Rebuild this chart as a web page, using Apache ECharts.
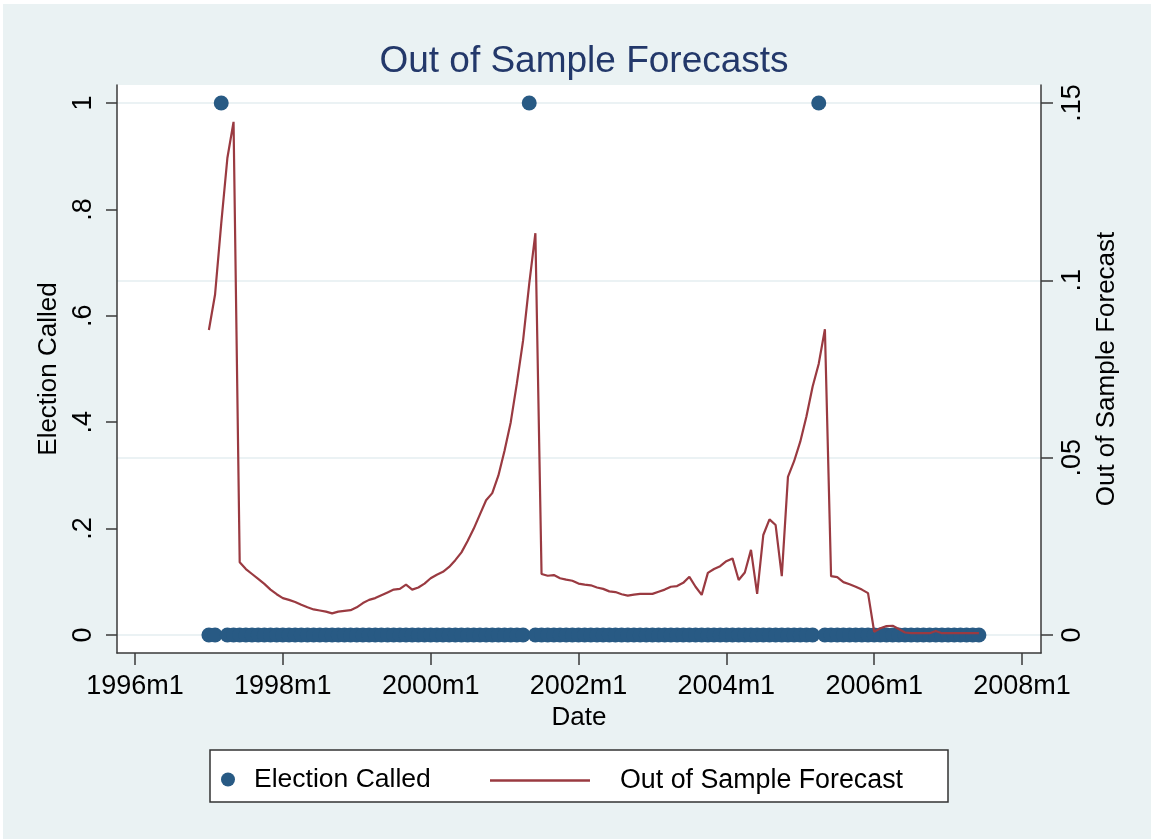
<!DOCTYPE html>
<html>
<head>
<meta charset="utf-8">
<script src="https://cdn.jsdelivr.net/npm/echarts@6/dist/echarts.min.js"></script>
<style>
html,body{margin:0;padding:0;background:#ffffff;}
#chart{width:1151px;height:839px;}
</style>
</head>
<body>
<div id="chart"></div>
<script>
// ---- data ----
var startYear = 1997;          // first month of the sample: 1997m1
var nMonths = 126;             // 1997m1 .. 2007m6

// Out of sample forecast, one row per year (Jan..Dec)
var forecast1997 = [0.086, 0.096, 0.116, 0.1345, 0.1447, 0.0205, 0.0186, 0.0172, 0.0158, 0.0144, 0.0128, 0.0115];
var forecast1998 = [0.0104, 0.0099, 0.0093, 0.0085, 0.0078, 0.0072, 0.0069, 0.0066, 0.0061, 0.0066, 0.0068, 0.0070];
var forecast1999 = [0.0078, 0.0090, 0.0099, 0.0104, 0.0112, 0.0120, 0.0128, 0.0130, 0.0142, 0.0128, 0.0134, 0.0145];
var forecast2000 = [0.0160, 0.0170, 0.0178, 0.0192, 0.0211, 0.0233, 0.0265, 0.0300, 0.0340, 0.0380, 0.0400, 0.0450];
var forecast2001 = [0.0520, 0.0600, 0.0710, 0.0830, 0.0990, 0.1133, 0.0172, 0.0167, 0.0169, 0.0160, 0.0156, 0.0153];
var forecast2002 = [0.0145, 0.0142, 0.0140, 0.0134, 0.0130, 0.0123, 0.0121, 0.0115, 0.0111, 0.0114, 0.0116, 0.0116];
var forecast2003 = [0.0116, 0.0122, 0.0128, 0.0136, 0.0138, 0.0147, 0.0164, 0.0136, 0.0113, 0.0175, 0.0186, 0.0194];
var forecast2004 = [0.0208, 0.0216, 0.0155, 0.0176, 0.0240, 0.0116, 0.0282, 0.0326, 0.0310, 0.0166, 0.0446, 0.0490];
var forecast2005 = [0.0545, 0.0616, 0.0700, 0.0765, 0.0862, 0.0166, 0.0163, 0.0149, 0.0143, 0.0136, 0.0128, 0.0118];
var forecast2006 = [0.0009, 0.0019, 0.0025, 0.0026, 0.0017, 0.0007, 0.0005, 0.0005, 0.0005, 0.0005, 0.0011, 0.0005];
var forecast2007 = [0.0005, 0.0005, 0.0005, 0.0005, 0.0005, 0.0005];

// Election called indicator, one row per year
var election1997 = [0,0,1,0,0,0,0,0,0,0,0,0];
var election1998 = [0,0,0,0,0,0,0,0,0,0,0,0];
var election1999 = [0,0,0,0,0,0,0,0,0,0,0,0];
var election2000 = [0,0,0,0,0,0,0,0,0,0,0,0];
var election2001 = [0,0,0,0,1,0,0,0,0,0,0,0];
var election2002 = [0,0,0,0,0,0,0,0,0,0,0,0];
var election2003 = [0,0,0,0,0,0,0,0,0,0,0,0];
var election2004 = [0,0,0,0,0,0,0,0,0,0,0,0];
var election2005 = [0,0,0,1,0,0,0,0,0,0,0,0];
var election2006 = [0,0,0,0,0,0,0,0,0,0,0,0];
var election2007 = [0,0,0,0,0,0];

// axis ticks (x in months since 1996m1)
var xTickValues = [0, 24, 48, 72, 96, 120, 144];
var xTickLabels = ["1996m1", "1998m1", "2000m1", "2002m1", "2004m1", "2006m1", "2008m1"];
var leftTickValues = [0, 0.2, 0.4, 0.6, 0.8, 1];
var leftTickLabels = ["0", ".2", ".4", ".6", ".8", "1"];
var rightTickValues = [0, 0.05, 0.1, 0.15];
var rightTickLabels = ["0", ".05", ".1", ".15"];

// ---- build ----
var forecast = [].concat(forecast1997, forecast1998, forecast1999, forecast2000, forecast2001,
  forecast2002, forecast2003, forecast2004, forecast2005, forecast2006, forecast2007);
var election = [].concat(election1997, election1998, election1999, election2000, election2001,
  election2002, election2003, election2004, election2005, election2006, election2007);

var dates = [];
for (var i = 0; i < nMonths; i++) {
  dates.push((startYear + Math.floor(i / 12)) + "m" + (i % 12 + 1));
}
function monthIndex(d) { // months since 1996m1
  var p = d.split("m");
  return (parseInt(p[0], 10) - 1996) * 12 + parseInt(p[1], 10) - 1;
}
var forecastData = dates.map(function (d, i) { return [monthIndex(d), forecast[i]]; });
var electionData = dates.map(function (d, i) { return [monthIndex(d), election[i]]; });

function lookup(values, labels) {
  return function (v) {
    for (var k = 0; k < values.length; k++) {
      if (Math.abs(values[k] - v) < 1e-9) return labels[k];
    }
    return "";
  };
}

var FONT = '"Liberation Sans", Arial, Helvetica, sans-serif';
var AXIS_COLOR = '#3a3a3a';
var NAVY = '#285a84';
var MAROON = '#9a3a41';

var chart = echarts.init(document.getElementById('chart'), null, { renderer: 'canvas' });
chart.setOption({
  backgroundColor: '#eaf2f3',
  animation: false,
  title: {
    text: 'Out of Sample Forecasts',
    left: 579, textAlign: 'center', top: 38,
    textStyle: { fontFamily: FONT, fontSize: 37, fontWeight: 'normal', color: '#23386a' }
  },
  graphic: [
    { type: 'rect', shape: { x: 0, y: 0, width: 1151, height: 4 }, style: { fill: '#ffffff' }, silent: true },
    { type: 'rect', shape: { x: 0, y: 0, width: 3, height: 839 }, style: { fill: '#ffffff' }, silent: true },
    { type: 'rect', shape: { x: 117, y: 85, width: 924, height: 568 }, style: { fill: '#ffffff' }, silent: true, z: -10 },
    { type: 'rect', shape: { x: 210, y: 750, width: 738, height: 52 }, style: { fill: '#ffffff', stroke: '#333333', lineWidth: 1.5 }, silent: true, z: 0 }
  ],
  legend: [
    {
      data: [{ name: 'Election Called', icon: 'circle' }], left: 216, top: 761,
      itemWidth: 14, itemHeight: 14,
      textStyle: { fontFamily: FONT, fontSize: 26.5, color: '#000', padding: [0, 0, 0, 14] }
    },
    {
      data: [{ name: 'Out of Sample Forecast', icon: 'rect' }], left: 485, top: 762,
      itemWidth: 100, itemHeight: 2.5,
      itemStyle: { color: MAROON },
      textStyle: { fontFamily: FONT, fontSize: 26.8, color: '#000', padding: [0, 0, 0, 25] }
    }
  ],
  grid: { left: 117, right: 110, top: 85, bottom: 186, containLabel: false },
  xAxis: {
    type: 'value', min: -2.92, max: 147.08,
    name: 'Date', nameLocation: 'middle', nameGap: 48,
    nameTextStyle: { fontFamily: FONT, fontSize: 26, color: '#000' },
    axisLine: { show: true, onZero: false, lineStyle: { color: AXIS_COLOR, width: 1.5 } },
    axisTick: { show: true, customValues: xTickValues, length: 12, lineStyle: { color: AXIS_COLOR, width: 1.5 } },
    axisLabel: { customValues: xTickValues, formatter: lookup(xTickValues, xTickLabels), margin: 20,
      fontFamily: FONT, fontSize: 27, color: '#000' },
    splitLine: { show: false }
  },
  yAxis: [
    {
      type: 'value', position: 'left', min: -0.0338, max: 1.0338,
      name: 'Election Called', nameLocation: 'middle', nameRotate: 90, nameGap: 50,
      nameTextStyle: { fontFamily: FONT, fontSize: 26, color: '#000' },
      axisLine: { show: true, onZero: false, lineStyle: { color: AXIS_COLOR, width: 1.5 } },
      axisTick: { show: true, customValues: leftTickValues, length: 11, lineStyle: { color: AXIS_COLOR, width: 1.5 } },
      axisLabel: { customValues: leftTickValues, formatter: lookup(leftTickValues, leftTickLabels), rotate: 90, margin: 20,
        fontFamily: FONT, fontSize: 27, color: '#000' },
      splitLine: { show: false }
    },
    {
      type: 'value', position: 'right', min: -0.00508, max: 0.15508,
      name: 'Out of Sample Forecast', nameLocation: 'middle', nameRotate: 90, nameGap: 50,
      nameTextStyle: { fontFamily: FONT, fontSize: 26, color: '#000' },
      axisLine: { show: true, onZero: false, lineStyle: { color: AXIS_COLOR, width: 1.5 } },
      axisTick: { show: true, customValues: rightTickValues, length: 12, lineStyle: { color: AXIS_COLOR, width: 1.5 } },
      axisLabel: { customValues: rightTickValues, formatter: lookup(rightTickValues, rightTickLabels), rotate: 90, margin: 18,
        fontFamily: FONT, fontSize: 27, color: '#000' },
      splitLine: { show: true, lineStyle: { color: '#e4eef0', width: 1.5 } }
    }
  ],
  series: [
    {
      name: 'Election Called', type: 'scatter', xAxisIndex: 0, yAxisIndex: 0,
      data: electionData, symbol: 'circle', symbolSize: 15,
      itemStyle: { color: NAVY, opacity: 1 }
    },
    {
      name: 'Out of Sample Forecast', type: 'line', xAxisIndex: 0, yAxisIndex: 1,
      data: forecastData, showSymbol: false, symbol: 'none',
      lineStyle: { color: MAROON, width: 2.2 }, itemStyle: { color: MAROON }
    }
  ]
});
</script>
</body>
</html>
